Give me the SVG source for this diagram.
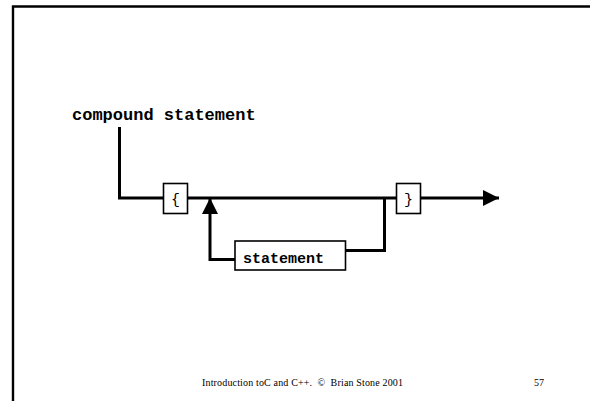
<svg xmlns="http://www.w3.org/2000/svg" width="590" height="401" viewBox="0 0 590 401">
<style>
.frame{fill:none;stroke:#000;stroke-width:2.4}
.wire{fill:none;stroke:#000;stroke-width:3}
.box{fill:#fff;stroke:#000;stroke-width:1.6}
.mono{font-family:"Liberation Mono","Courier New",monospace;fill:#000}
.foot{font-family:"Liberation Serif","Times New Roman",serif;font-size:10px;fill:#000;white-space:pre}
</style>
<defs>
<marker id="ah" viewBox="0 0 16 16" refX="16" refY="8" markerWidth="16" markerHeight="16" markerUnits="userSpaceOnUse" orient="auto">
<path d="M0,0 L16,8 L0,16 Z" fill="#000"/>
</marker>
</defs>
<rect width="590" height="401" fill="#fff"/>
<path class="frame" d="M13,401 V6.5 H590"/>
<text id="title" class="mono" x="72" y="120" font-size="17" font-weight="bold">compound statement</text>
<g id="connectors">
<path class="wire" d="M119.5,127 V198 H164"/>
<path class="wire" d="M187,198 H397"/>
<path class="wire" d="M420,198 H499" marker-end="url(#ah)"/>
<path class="wire" d="M345,250.5 H384.5 V198"/>
<path class="wire" d="M235,259.5 H210 V198" marker-end="url(#ah)"/>
</g>
<g id="open-brace">
<rect class="box" x="163.5" y="183.5" width="24" height="30"/>
<text class="mono" x="175.5" y="204" font-size="15" text-anchor="middle">{</text>
</g>
<g id="close-brace">
<rect class="box" x="396.5" y="183.5" width="24" height="30"/>
<text class="mono" x="408.5" y="204" font-size="15" text-anchor="middle">}</text>
</g>
<g id="statement">
<rect class="box" x="235" y="241" width="110.5" height="29"/>
<text class="mono" x="243" y="263" font-size="15" font-weight="bold">statement</text>
</g>
<text class="foot" x="202" y="386" textLength="201" xml:space="preserve">Introduction toC and C++.  ©  Brian Stone 2001</text>
<text class="foot" x="534" y="386">57</text>
</svg>
